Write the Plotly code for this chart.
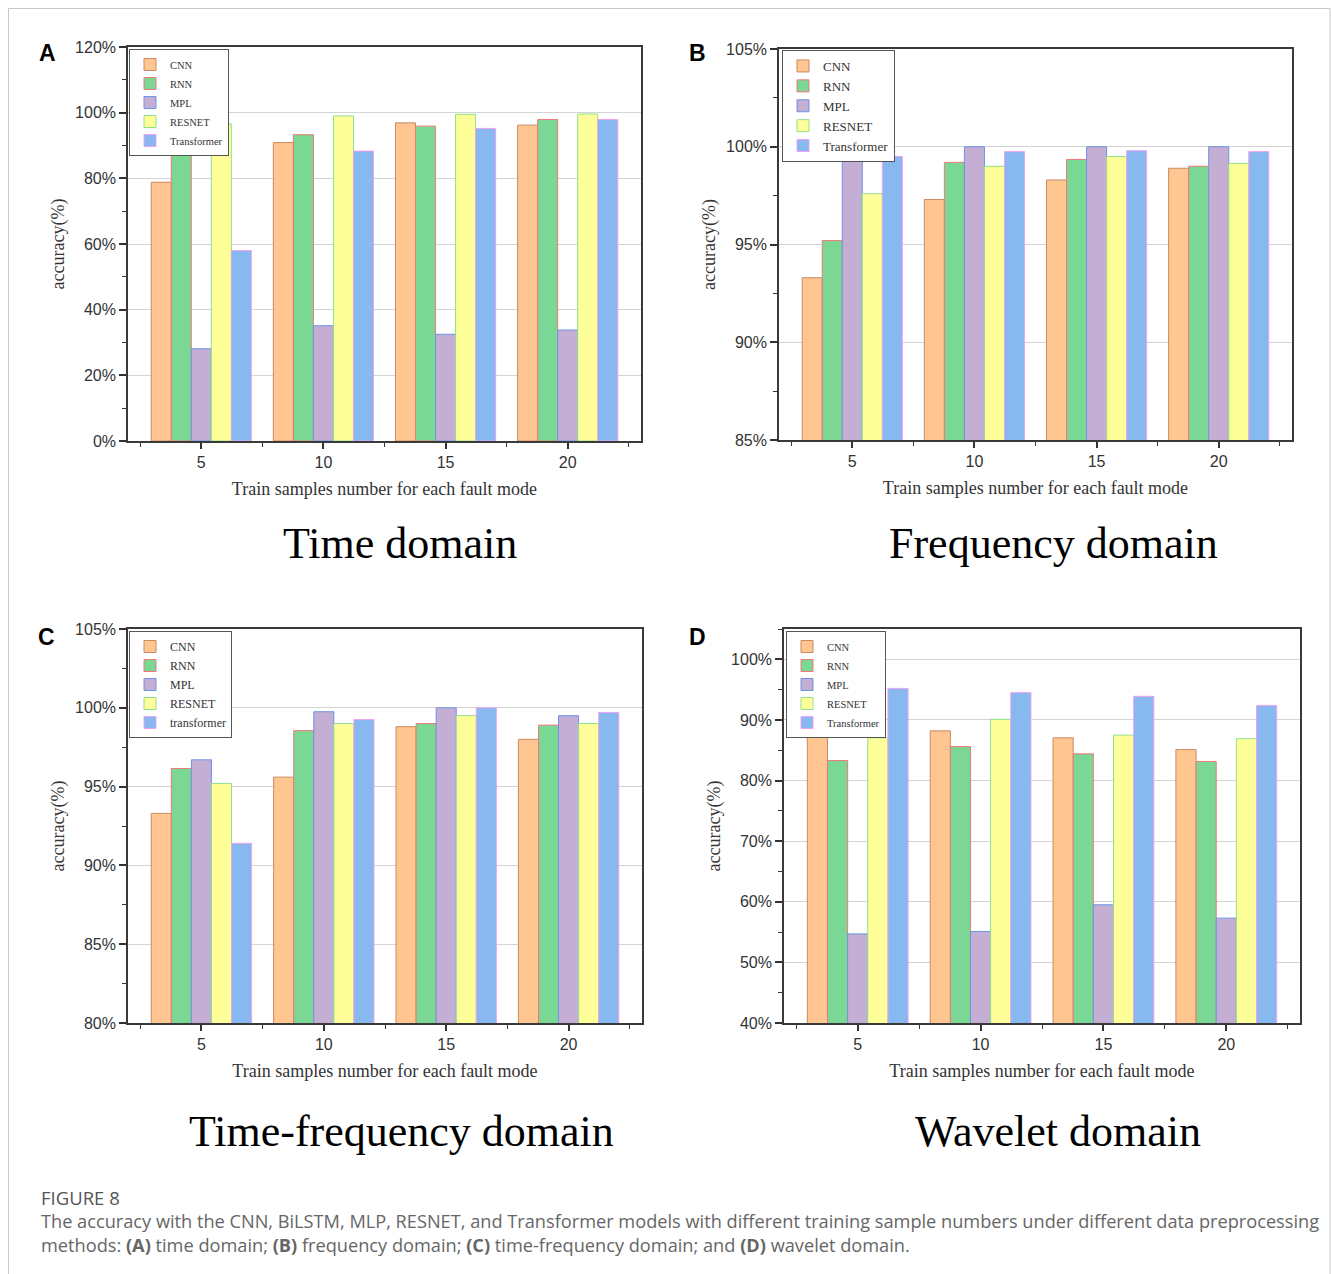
import plotly.graph_objects as go

W, H = 1331, 1274

# ---------------- data ----------------
samples = [5, 10, 15, 20]
models = ["CNN", "RNN", "MPL", "RESNET", "Transformer"]
models_c = ["CNN", "RNN", "MPL", "RESNET", "transformer"]

# (A) time domain
time_cnn = [78.8, 90.9, 96.9, 96.2]
time_rnn = [88.8, 93.3, 95.9, 97.9]
time_mpl = [28.1, 35.1, 32.5, 33.8]
time_resnet = [96.6, 99.0, 99.5, 99.6]
time_transformer = [58.0, 88.3, 95.2, 97.9]

# (B) frequency domain
freq_cnn = [93.3, 97.3, 98.3, 98.9]
freq_rnn = [95.2, 99.2, 99.35, 99.0]
freq_mpl = [100.0, 100.0, 100.0, 100.0]
freq_resnet = [97.6, 99.0, 99.5, 99.15]
freq_transformer = [99.5, 99.75, 99.8, 99.75]

# (C) time-frequency domain
tf_cnn = [93.3, 95.6, 98.8, 98.0]
tf_rnn = [96.15, 98.55, 99.0, 98.9]
tf_mpl = [96.7, 99.75, 100.0, 99.5]
tf_resnet = [95.2, 99.0, 99.5, 99.0]
tf_transformer = [91.4, 99.25, 100.0, 99.7]

# (D) wavelet domain
wav_cnn = [89.0, 88.2, 87.05, 85.1]
wav_rnn = [83.3, 85.6, 84.4, 83.15]
wav_mpl = [54.7, 55.1, 59.5, 57.3]
wav_resnet = [87.05, 90.1, 87.5, 86.9]
wav_transformer = [95.2, 94.5, 93.9, 92.4]

panel_letters = ["A", "B", "C", "D"]
panel_titles = ["Time domain", "Frequency domain", "Time-frequency domain", "Wavelet domain"]
x_title = "Train samples number for each fault mode"
y_title = "accuracy(%)"

# ---------------- style ----------------
fill_colors = ["#FFC691", "#7AD894", "#C4AED3", "#FFFF99", "#88B8F0"]
edge_colors = ["#C98A63", "#F07878", "#6C94E4", "#8EE08E", "#EFA0EF"]

SERIF = "Liberation Serif, Times New Roman, serif"
SANS = "Liberation Sans, Arial, sans-serif"


def px_x(p):
    return p / W


def px_y(p):
    return 1 - p / H


# plot areas in pixels: (left, right, top, bottom)
areas = [
    (128, 641, 47, 441),
    (779, 1292, 49, 440),
    (128, 642, 629, 1023),
    (784, 1300, 629, 1023),
]
yranges = [(0, 120), (85, 105), (80, 105), (40, 105)]
ydticks = [(20, 10), (5, 2.5), (5, 2.5), (10, 5)]
legend_pos = [(129, 49, 10.5), (782, 50, 13), (129, 631, 12), (786, 631, 10.5)]

panel_data = [
    [time_cnn, time_rnn, time_mpl, time_resnet, time_transformer],
    [freq_cnn, freq_rnn, freq_mpl, freq_resnet, freq_transformer],
    [tf_cnn, tf_rnn, tf_mpl, tf_resnet, tf_transformer],
    [wav_cnn, wav_rnn, wav_mpl, wav_resnet, wav_transformer],
]
panel_names = [models, models, models_c, models]

fig = go.Figure()
layout = dict(
    width=W, height=H, autosize=False,
    margin=dict(l=0, r=0, t=0, b=0, pad=0, autoexpand=False),
    paper_bgcolor="white", plot_bgcolor="white",
    barmode="group", bargap=0.18, bargroupgap=0,
    annotations=[], shapes=[],
)

for i in range(4):
    suffix = "" if i == 0 else str(i + 1)
    xa, ya = "x" + suffix, "y" + suffix
    leg = "legend" if i == 0 else "legend" + str(i + 1)
    for j in range(5):
        fig.add_trace(go.Bar(
            x=samples, y=panel_data[i][j], name=panel_names[i][j],
            xaxis=xa, yaxis=ya, legend=leg,
            marker=dict(color=fill_colors[j], line=dict(color=edge_colors[j], width=1)),
        ))
    l, r, t, b = areas[i]
    major, minor = ydticks[i]
    layout["xaxis" + suffix] = dict(
        domain=[px_x(l), px_x(r)], anchor=ya, range=[2, 23], automargin=False,
        tickmode="linear", tick0=5, dtick=5,
        ticks="outside", ticklen=6, tickwidth=1.5, tickcolor="#333",
        minor=dict(ticks="outside", ticklen=4, dtick=2.5, tick0=2.5, tickcolor="#333", tickwidth=1.2),
        showline=True, linecolor="#3a3a3a", linewidth=1.6, mirror=True,
        showgrid=False, zeroline=False,
        tickfont=dict(family=SANS, size=16, color="#333"),
        title=dict(text=x_title, font=dict(family=SERIF, size=18, color="#333"), standoff=12),
    )
    layout["yaxis" + suffix] = dict(
        domain=[px_y(b), px_y(t)], anchor=xa, range=list(yranges[i]), automargin=False,
        tickmode="linear", tick0=yranges[i][0], dtick=major, ticksuffix="%",
        ticks="outside", ticklen=7, tickwidth=1.5, tickcolor="#333",
        minor=dict(ticks="outside", ticklen=4, dtick=minor, tickcolor="#333", tickwidth=1.2),
        showline=True, linecolor="#3a3a3a", linewidth=1.6, mirror=True,
        showgrid=True, gridcolor="#d4d4d4", gridwidth=1.2, zeroline=False,
        tickfont=dict(family=SANS, size=16, color="#333"),
        title=dict(text=y_title, font=dict(family=SERIF, size=18, color="#333"), standoff=6),
    )
    lx, ly, lf = legend_pos[i]
    layout[leg] = dict(
        x=px_x(lx), y=px_y(ly), xanchor="left", yanchor="top",
        bgcolor="white", bordercolor="#555", borderwidth=1,
        font=dict(family=SERIF, size=lf, color="#333"),
        tracegroupgap=0, itemwidth=30,
    )
    # panel letter
    letter_x = [47, 697, 46, 697][i]
    letter_y = [53, 53, 637, 637][i]
    layout["annotations"].append(dict(
        x=px_x(letter_x), y=px_y(letter_y), xref="paper", yref="paper",
        text="<b>%s</b>" % panel_letters[i], showarrow=False,
        font=dict(family=SANS, size=23, color="black"), xanchor="center", yanchor="middle",
    ))
    # domain title
    tx = [400, 1053, 401, 1058][i]
    ty = [543, 543, 1131, 1131][i]
    layout["annotations"].append(dict(
        x=px_x(tx), y=px_y(ty), xref="paper", yref="paper",
        text=panel_titles[i], showarrow=False,
        font=dict(family=SERIF, size=44, color="black"), xanchor="center", yanchor="middle",
    ))

# caption
caption_head = "FIGURE 8"
caption_l1 = ("The accuracy with the CNN, BiLSTM, MLP, RESNET, and Transformer models with different "
              "training sample numbers under different data preprocessing")
caption_l2 = ("methods: <b>(A)</b> time domain; <b>(B)</b> frequency domain; <b>(C)</b> time-frequency "
              "domain; and <b>(D)</b> wavelet domain.")
for txt, yy, col, fs in [(caption_head, 1197, "#555", 18.5),
                         (caption_l1, 1221, "#666", 18.2),
                         (caption_l2, 1245, "#666", 18.2)]:
    layout["annotations"].append(dict(
        x=px_x(39), y=px_y(yy), xref="paper", yref="paper", text=txt, showarrow=False,
        font=dict(family="Open Sans, sans-serif", size=fs, color=col), xanchor="left", yanchor="middle",
    ))

# outer frame of the figure
layout["shapes"].append(dict(
    type="rect", xref="paper", yref="paper",
    x0=px_x(8.5), x1=px_x(1330), y0=px_y(1290), y1=px_y(8.5),
    line=dict(color="#c8c8c8", width=1), fillcolor="rgba(0,0,0,0)", layer="below",
))

fig.update_layout(**layout)
fig.write_html(
    "out.html",
    post_script="document.body.style.margin='0';document.body.style.padding='0';",
)
